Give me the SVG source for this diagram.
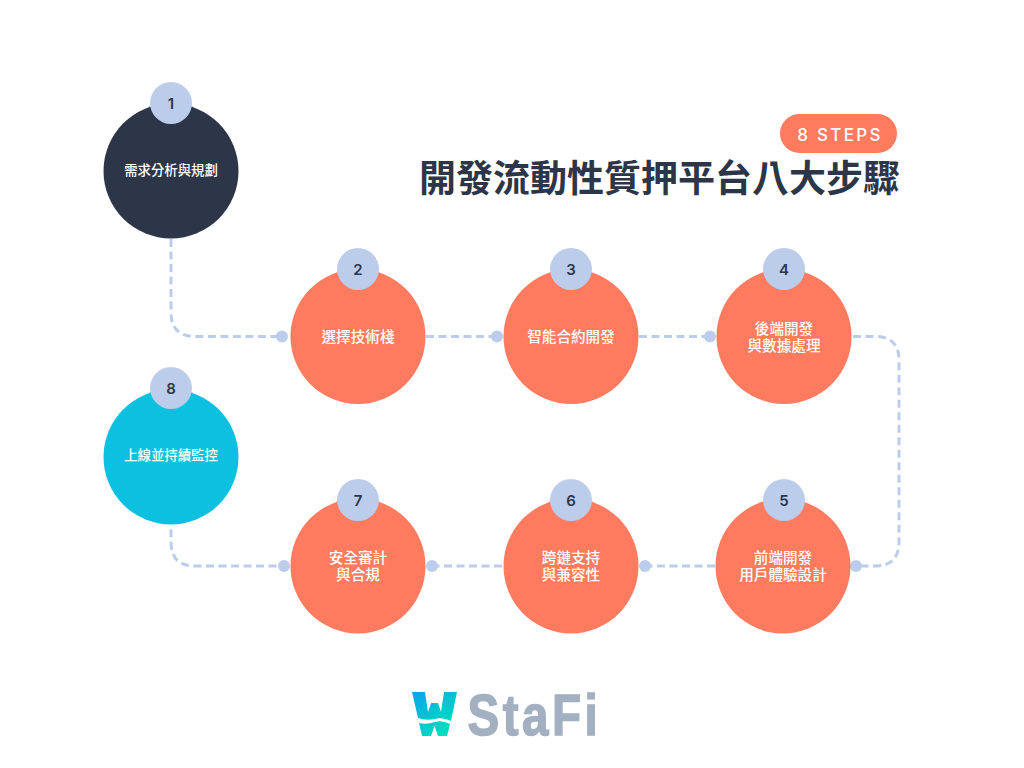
<svg xmlns="http://www.w3.org/2000/svg" width="1024" height="768" viewBox="0 0 1024 768">
<style>
.cn{font-family:"Noto Sans CJK TC","Noto Sans CJK SC",sans-serif}
.lbl{font-size:14.600px;font-weight:500;fill:#fff;text-anchor:middle}
.sm{font-size:13.400px}
.num{font-family:Inter,"Liberation Sans",sans-serif;font-size:15px;font-weight:600;fill:#2d3548;text-anchor:middle}
.badge{fill:#bccdec}
.or{fill:#ff7b5f}
.wire{fill:none;stroke:#bccdec;stroke-width:3;stroke-dasharray:8 4.500}
.dot{fill:#bccdec}
</style>
<defs>
<linearGradient id="w" gradientUnits="userSpaceOnUse" x1="414" y1="692" x2="444" y2="730"><stop offset="0" stop-color="#0aa4ea"/><stop offset="1" stop-color="#00dcc0"/></linearGradient>
</defs>
<rect width="1024" height="768" fill="#fff"/>
<g id="connectors">
<path class="wire" d="M171 239V312Q171 336.500 195 336.500H282"/>
<path class="wire" d="M426 336.500H497"/>
<path class="wire" d="M639 336.500H710"/>
<path class="wire" d="M853 336.500H875Q899 336.500 899 360V542Q899 566 875 566H856"/>
<path class="wire" d="M715 566H645"/>
<path class="wire" d="M502 566H432"/>
<path class="wire" d="M289 566H195Q171 566 171 542V525"/>
<circle class="dot" cx="282" cy="336.500" r="6"/>
<circle class="dot" cx="497" cy="336.500" r="6"/>
<circle class="dot" cx="710" cy="336.500" r="6"/>
<circle class="dot" cx="856" cy="566" r="6"/>
<circle class="dot" cx="645" cy="566" r="6"/>
<circle class="dot" cx="432" cy="566" r="6"/>
<circle class="dot" cx="284" cy="566" r="6"/>
</g>
<g id="node-1"><circle cx="171" cy="171" r="67.500" fill="#2d3548"/><circle class="badge" cx="171" cy="103" r="21"/><text class="num" x="171" y="109">1</text><text class="cn lbl sm" x="171" y="175">需求分析與規劃</text></g>
<g id="node-2"><circle class="or" cx="358" cy="336.500" r="67.500"/><circle class="badge" cx="358" cy="269" r="21"/><text class="num" x="358" y="275">2</text><text class="cn lbl" x="358" y="342">選擇技術棧</text></g>
<g id="node-3"><circle class="or" cx="571" cy="336.500" r="67.500"/><circle class="badge" cx="571" cy="269" r="21"/><text class="num" x="571" y="275">3</text><text class="cn lbl" x="571" y="342">智能合約開發</text></g>
<g id="node-4"><circle class="or" cx="784" cy="336.500" r="67.500"/><circle class="badge" cx="784" cy="269" r="21"/><text class="num" x="784" y="275">4</text><text class="cn lbl"><tspan x="784" y="334">後端開發</tspan><tspan x="784" y="350.500">與數據處理</tspan></text></g>
<g id="node-5"><circle class="or" cx="783" cy="566" r="67.500"/><circle class="badge" cx="784" cy="500" r="21"/><text class="num" x="784" y="506">5</text><text class="cn lbl"><tspan x="783" y="563">前端開發</tspan><tspan x="783" y="579.500">用戶體驗設計</tspan></text></g>
<g id="node-6"><circle class="or" cx="571" cy="566" r="67.500"/><circle class="badge" cx="571" cy="500" r="21"/><text class="num" x="571" y="506">6</text><text class="cn lbl"><tspan x="571" y="563">跨鏈支持</tspan><tspan x="571" y="579.500">與兼容性</tspan></text></g>
<g id="node-7"><circle class="or" cx="358" cy="566" r="67.500"/><circle class="badge" cx="358" cy="500" r="21"/><text class="num" x="358" y="506">7</text><text class="cn lbl"><tspan x="358" y="563">安全審計</tspan><tspan x="358" y="579.500">與合規</tspan></text></g>
<g id="node-8"><circle cx="171" cy="457" r="67.500" fill="#0cc0e0"/><circle class="badge" cx="171" cy="388" r="21"/><text class="num" x="171" y="394">8</text><text class="cn lbl sm" x="171" y="460">上線並持續監控</text></g>
<g id="title"><rect x="780" y="114" width="117" height="39" rx="19.500" class="or"/><text x="840" y="141" font-family="Inter,'Liberation Sans',sans-serif" font-size="17" font-weight="500" fill="#fff" text-anchor="middle" letter-spacing="2.300">8 STEPS</text>
<text class="cn" x="419" y="192" font-size="37" font-weight="700" fill="#2d3548">開發流動性質押平台八大步驟</text></g>
<g id="logo"><path fill="url(#w)" d="M412 692H425L428 712L431 703H438L441 712L444 692H457L451 721Q443 717 434.500 719Q426 721 418 718Z"/><path fill="url(#w)" d="M419 723Q427 725 434.500 722Q443 720 450 724L447 736H438L434.500 726L431 736H422Z"/>
<text transform="translate(467.500 735) scale(.82 1)" font-family="'Liberation Sans',sans-serif" font-size="58" font-weight="700" fill="#a2b0c1" stroke="#a2b0c1" stroke-width="1.500" letter-spacing="4.300">StaFi</text></g>
</svg>
